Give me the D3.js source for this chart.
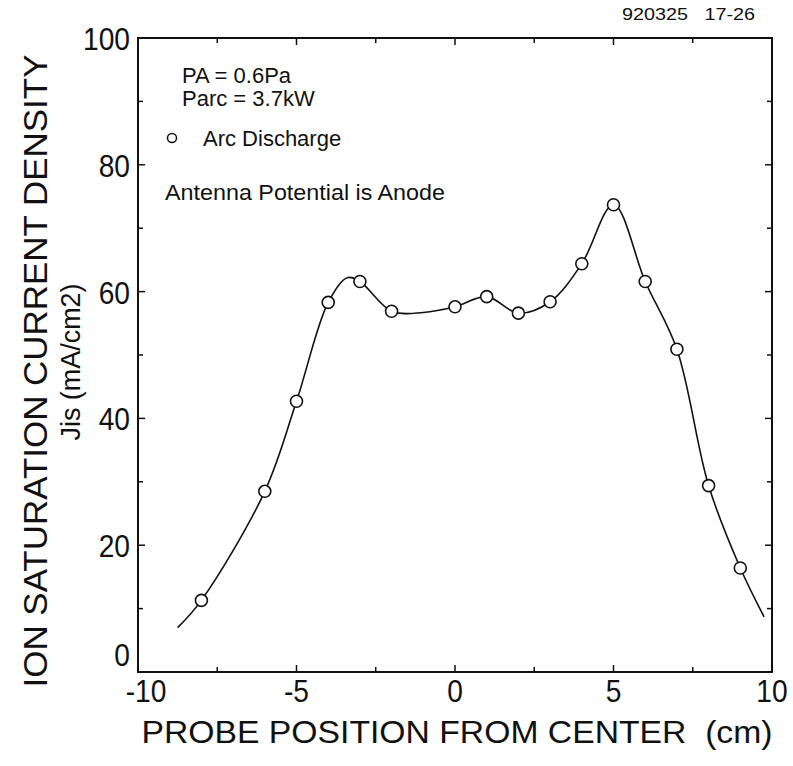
<!DOCTYPE html>
<html>
<head>
<meta charset="utf-8">
<script src="https://cdn.jsdelivr.net/npm/d3@7"></script>
<style>
  html, body { margin: 0; padding: 0; background: #fff; }
  svg { display: block; }
  text { font-family: "Liberation Sans", Arial, Helvetica, sans-serif; fill: #111; }
</style>
</head>
<body>
<svg id="chart" width="793" height="766"></svg>
<script>
// Probe positions (cm) and measured ion saturation current density (mA/cm2)
const positions = [-8, -6, -5, -4, -3, -2, 0, 1, 2, 3, 4, 5, 6, 7, 8, 9];
const densities = [11.3, 28.5, 42.7, 58.3, 61.6, 56.9, 57.6, 59.2, 56.6, 58.4, 64.4, 73.7, 61.6, 50.9, 29.4, 16.4];

// Hand-drawn fit through the measurements
const fitX = [-8.75, -8, -6, -5, -4, -3.4, -3, -2, -1, 0, 1, 2, 3, 4, 5, 6, 7, 8, 9, 9.75];
const fitY = [7.0, 11.3, 28.5, 42.7, 58.3, 62.2, 61.6, 56.9, 56.7, 57.6, 59.2, 56.6, 58.4, 64.4, 73.7, 61.6, 50.9, 29.4, 16.4, 8.7];

const xTickLabels = [-10, -5, 0, 5, 10];
const yTickLabels = [0, 20, 40, 60, 80, 100];

const svg = d3.select("#chart");
const plotLeft = 138, plotTop = 38, plotRight = 772, plotBottom = 672;

const x = d3.scaleLinear().domain([-10, 10]).range([plotLeft, plotRight]);
const y = d3.scaleLinear().domain([0, 100]).range([plotBottom, plotTop]);

// Inward ticks on all four sides
const g = svg.append("g").attr("stroke", "#111").attr("fill", "none");
const xMinor = d3.range(-10, 10.01, 2.5);
const yMinor = d3.range(0, 100.01, 10);
xMinor.forEach(v => {
  const len = (v % 5 === 0) ? 7 : 5;
  g.append("line").attr("x1", x(v)).attr("x2", x(v)).attr("y1", plotBottom).attr("y2", plotBottom - len).attr("stroke-width", 1.5);
  g.append("line").attr("x1", x(v)).attr("x2", x(v)).attr("y1", plotTop).attr("y2", plotTop + len).attr("stroke-width", 1.5);
});
yMinor.forEach(v => {
  const len = (v % 20 === 0) ? 7 : 5;
  g.append("line").attr("x1", plotLeft).attr("x2", plotLeft + len).attr("y1", y(v)).attr("y2", y(v)).attr("stroke-width", 1.5);
  g.append("line").attr("x1", plotRight).attr("x2", plotRight - len).attr("y1", y(v)).attr("y2", y(v)).attr("stroke-width", 1.5);
});

// Plot frame
svg.append("rect")
  .attr("x", plotLeft).attr("y", plotTop)
  .attr("width", plotRight - plotLeft).attr("height", plotBottom - plotTop)
  .attr("fill", "none").attr("stroke", "#111").attr("stroke-width", 2);

// Tick labels (slightly condensed face)
svg.append("g").selectAll("text").data(xTickLabels).join("text")
  .attr("transform", d => `translate(${x(d) + (d === -10 ? 8 : 0)},702) scale(0.88,1)`)
  .attr("text-anchor", "middle")
  .attr("font-size", 32)
  .text(d => d);

svg.append("g").selectAll("text").data(yTickLabels).join("text")
  .attr("transform", d => `translate(130,${y(d) + (d === 0 ? -6 : 12)}) scale(0.88,1)`)
  .attr("text-anchor", "end")
  .attr("font-size", 32)
  .text(d => d);

// Axis titles
svg.append("text")
  .attr("x", 457).attr("y", 743)
  .attr("text-anchor", "middle")
  .attr("font-size", 32)
  .attr("xml:space", "preserve")
  .attr("textLength", 631).attr("lengthAdjust", "spacingAndGlyphs")
  .text("PROBE POSITION FROM CENTER  (cm)");

svg.append("text")
  .attr("transform", "translate(47,371) rotate(-90)")
  .attr("text-anchor", "middle")
  .attr("font-size", 33)
  .attr("textLength", 633).attr("lengthAdjust", "spacingAndGlyphs")
  .text("ION SATURATION CURRENT DENSITY");

svg.append("text")
  .attr("transform", "translate(80,362) rotate(-90)")
  .attr("text-anchor", "middle")
  .attr("font-size", 27)
  .attr("textLength", 157).attr("lengthAdjust", "spacingAndGlyphs")
  .text("Jis (mA/cm2)");

// Run identifier
svg.append("text")
  .attr("x", 622).attr("y", 20)
  .attr("font-size", 17)
  .attr("xml:space", "preserve")
  .attr("textLength", 133).attr("lengthAdjust", "spacingAndGlyphs")
  .text("920325   17-26");

// Conditions and legend
const note = svg.append("g");
note.append("text").attr("x", 182).attr("y", 83).attr("font-size", 22).text("PA = 0.6Pa");
note.append("text").attr("x", 182).attr("y", 106).attr("font-size", 22).text("Parc = 3.7kW");
svg.append("circle").attr("cx", 172).attr("cy", 138).attr("r", 4.5)
  .attr("fill", "#fff").attr("stroke", "#111").attr("stroke-width", 1.5);
note.append("text").attr("x", 203).attr("y", 146).attr("font-size", 22).text("Arc Discharge");
note.append("text").attr("x", 165).attr("y", 200).attr("font-size", 22)
  .attr("textLength", 280).attr("lengthAdjust", "spacingAndGlyphs")
  .text("Antenna Potential is Anode");

// Fitted curve
const fit = fitX.map((v, i) => [v, fitY[i]]);
svg.append("path")
  .datum(fit)
  .attr("d", d3.line().x(d => x(d[0])).y(d => y(d[1])).curve(d3.curveCatmullRom.alpha(0.5)))
  .attr("fill", "none").attr("stroke", "#111").attr("stroke-width", 1.6);

// Measured points
svg.append("g").selectAll("circle")
  .data(positions.map((p, i) => [p, densities[i]]))
  .join("circle")
  .attr("cx", d => x(d[0])).attr("cy", d => y(d[1]))
  .attr("r", 6)
  .attr("fill", "#fff").attr("stroke", "#111").attr("stroke-width", 1.6);
</script>
</body>
</html>
